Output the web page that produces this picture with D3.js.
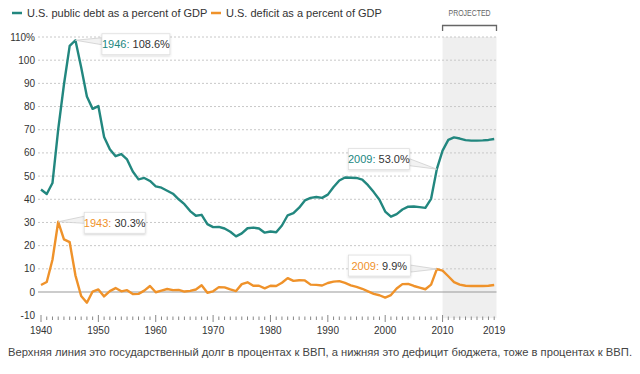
<!DOCTYPE html>
<html><head><meta charset="utf-8">
<script src="https://cdn.jsdelivr.net/npm/d3@7"></script>
<style>
html,body{margin:0;padding:0;background:#fff;}
svg{display:block;font-family:Arial,"Liberation Sans",Helvetica,sans-serif;}
</style></head>
<body>
<svg id="c" width="640" height="374"></svg>
<script>
const years = d3.range(1940, 2020);
const debt = [44.2,42.3,47.0,70.2,89.5,106.2,108.6,97.0,84.3,79.0,80.2,66.9,61.6,58.6,59.5,57.2,52.0,48.6,49.2,47.9,
  45.6,45.0,43.7,42.4,40.0,37.9,34.9,32.9,33.3,29.3,28.0,28.1,27.4,26.0,24.0,25.3,27.5,27.8,27.4,25.6,
  26.1,25.8,28.7,33.1,34.0,36.4,39.5,40.6,41.0,40.6,42.0,45.3,48.1,49.4,49.3,49.2,48.5,46.1,43.1,39.8,
  34.7,32.5,33.6,35.6,36.8,36.9,36.6,36.3,40.2,53.0,61.0,65.6,66.7,66.2,65.5,65.3,65.3,65.4,65.6,66.0];
const deficit = [3.0,4.3,13.9,30.3,22.7,21.5,7.2,-1.7,-4.6,0.2,1.1,-1.9,0.4,1.7,0.3,0.8,-0.9,-0.8,0.6,2.6,
  -0.1,0.6,1.3,0.8,0.9,0.2,0.5,1.1,2.9,-0.3,0.3,2.1,2.0,1.1,0.4,3.4,4.2,2.7,2.7,1.6,
  2.7,2.6,4.0,6.0,4.8,5.1,5.0,3.2,3.1,2.8,3.9,4.5,4.7,3.9,2.9,2.2,1.4,0.3,-0.8,-1.4,
  -2.4,-1.3,1.5,3.4,3.5,2.6,1.9,1.2,3.2,9.9,9.2,6.8,4.3,3.2,2.7,2.6,2.6,2.6,2.7,3.0];
const yTicks = [-10,0,10,20,30,40,50,60,70,80,90,100,110];
const xLabels = [1940,1950,1960,1970,1980,1990,2000,2010,2019];
const seriesNames = ["U.S. public debt as a percent of GDP","U.S. deficit as a percent of GDP"];
const callouts = [
  {series:0, year:1946, text:"108.6%", dx:26.5, dy:-6.5, w:68},
  {series:1, year:1943, text:"30.3%", dx:26, dy:-9.5, w:61},
  {series:0, year:2009, text:"53.0%", dx:-88.5, dy:-20.5, w:61},
  {series:1, year:2009, text:"9.9%", dx:-88.5, dy:-14, w:62}
];
const projectedStart = 2010;
const caption = "Верхняя линия это государственный долг в процентах к ВВП, а нижняя это дефицит бюджета, тоже в процентах к ВВП.";

const TEAL = "#22877f", ORANGE = "#ef922a";
const colors = [TEAL, ORANGE];
const svg = d3.select("#c");
const x = d3.scaleLinear().domain([1940, 2019]).range([41, 494.2]);
const y = d3.scaleLinear().domain([-10, 110]).range([315.2, 37]);
const left = 38, right = 496.5;

const defs = svg.append("defs");
const f = defs.append("filter").attr("id","sh").attr("x","-20%").attr("y","-30%").attr("width","140%").attr("height","170%");
f.append("feDropShadow").attr("dx",0).attr("dy",1).attr("stdDeviation",1.2).attr("flood-color","#000").attr("flood-opacity",0.18);

// projected shading
svg.append("rect").attr("x", x(projectedStart)).attr("y", y(110)).attr("width", right - x(projectedStart))
  .attr("height", y(-10) + 3 - y(110)).attr("fill", "#efefef");
// bracket
svg.append("path").attr("d", `M${x(projectedStart)},31V25.5H${right}V31`).attr("fill","none").attr("stroke","#666").attr("stroke-width",1.3);
svg.append("text").attr("x", (x(projectedStart)+right)/2).attr("y", 16).attr("text-anchor","middle")
  .attr("font-size", 9).attr("fill","#666").attr("textLength", 42).attr("lengthAdjust","spacingAndGlyphs")
  .text("PROJECTED");

// gridlines
svg.append("g").selectAll("line").data(yTicks.filter(t => t > 0)).join("line")
  .attr("x1", left).attr("x2", right).attr("y1", d => y(d)).attr("y2", d => y(d))
  .attr("stroke", "#c8c8c8").attr("stroke-width", 1).attr("stroke-dasharray", "2,2");
svg.append("line").attr("x1", left).attr("x2", right).attr("y1", y(0)).attr("y2", y(0))
  .attr("stroke", "#999").attr("stroke-width", 1.2);

// y labels
svg.append("g").selectAll("text").data(yTicks).join("text")
  .attr("x", 35).attr("y", d => y(d) + 3.5).attr("text-anchor", "end")
  .attr("font-size", 10).attr("fill", "#333")
  .text(d => d === 110 ? "110%" : d);

// x ticks
svg.append("g").selectAll("line").data(years).join("line")
  .attr("x1", d => x(d)).attr("x2", d => x(d))
  .attr("y1", d => d % 10 === 0 ? 315 : 316.5).attr("y2", d => d % 10 === 0 ? 322 : 320)
  .attr("stroke", "#888").attr("stroke-width", 1);
svg.append("g").selectAll("text").data(xLabels).join("text")
  .attr("x", d => x(d)).attr("y", 334).attr("text-anchor", "middle")
  .attr("font-size", 10).attr("fill", "#333").text(d => d);

// lines
const line = d3.line().x((d, i) => x(years[i])).y(d => y(d));
[debt, deficit].forEach((s, k) => {
  svg.append("path").datum(s).attr("d", line).attr("fill", "none")
    .attr("stroke", colors[k]).attr("stroke-width", 2.4).attr("stroke-linejoin", "round");
});

// legend
const lg = svg.append("g");
[[12, 0], [211, 1]].forEach(([lx, k]) => {
  lg.append("line").attr("x1", lx).attr("x2", lx + 10).attr("y1", 13).attr("y2", 13)
    .attr("stroke", colors[k]).attr("stroke-width", 2.5);
  lg.append("text").attr("x", lx + 15).attr("y", 17).attr("font-size", 11).attr("fill", "#333").text(seriesNames[k]);
});

// callouts
callouts.forEach(c => {
  const s = c.series === 0 ? debt : deficit;
  const v = s[c.year - 1940];
  const px = x(c.year), py = y(v);
  const bx = px + c.dx, by = py + c.dy;
  const g = svg.append("g");
  const t = g.append("text").attr("font-size", 11).attr("fill", "#333");
  t.append("tspan").attr("fill", colors[c.series]).text(c.year + ": ");
  t.append("tspan").text(c.text);
  const w = c.w, h = 21;
  let poly;
  if (c.dx > 0) poly = [[px, py], [bx, by + 4], [bx, by + 11]];
  else poly = [[px, py], [bx + w, by + 10], [bx + w, by + 17]];
  g.insert("polygon", "text").attr("points", poly.map(p => p.join(",")).join(" "))
    .attr("fill", "#f2f2f2").attr("stroke", "#cfcfcf").attr("stroke-width", 0.8);
  g.insert("rect", "text").attr("x", bx).attr("y", by).attr("width", w).attr("height", h)
    .attr("fill", "#fff").attr("stroke", "#dedede").attr("stroke-width", 0.8).attr("filter", "url(#sh)");
  const tw = t.node().getComputedTextLength();
  t.attr("x", bx + (w - tw) / 2).attr("y", by + 14.5);
});

// caption
svg.append("text").attr("x", 8).attr("y", 356).attr("font-size", 10.8).attr("fill", "#444")
  .attr("textLength", 624).attr("lengthAdjust", "spacingAndGlyphs")
  .text(caption);
</script>
</body></html>
